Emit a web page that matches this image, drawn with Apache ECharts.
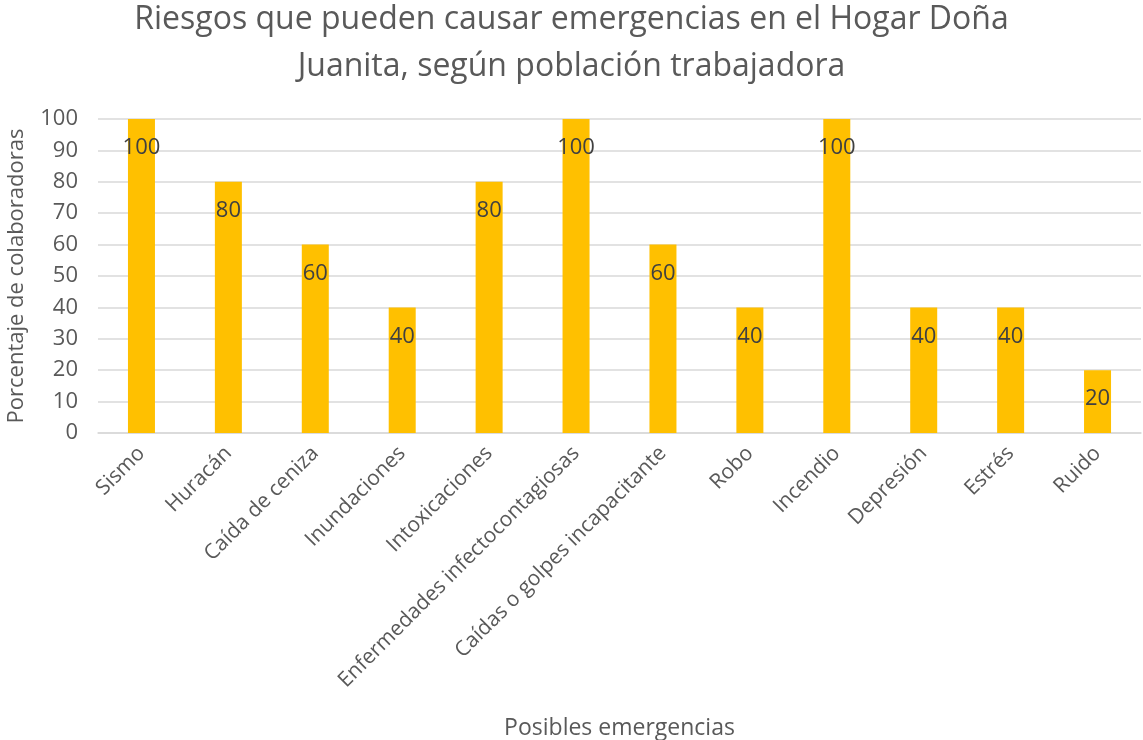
<!DOCTYPE html>
<html><head><meta charset="utf-8">
<script src="https://cdn.jsdelivr.net/npm/echarts@6/dist/echarts.min.js"></script>
<style>html,body{margin:0;padding:0;background:#fff}#c{width:1143px;height:740px}</style>
</head><body><div id="c"></div>
<script>
const categories = ["Sismo","Huracán","Caída de ceniza","Inundaciones","Intoxicaciones","Enfermedades infectocontagiosas","Caídas o golpes incapacitante","Robo","Incendio","Depresión","Estrés","Ruido"];
const values = [100,80,60,40,80,100,60,40,100,40,40,20];
const yTicks = {min:0,max:100,interval:10};
const titleText = "Riesgos que pueden causar emergencias en el Hogar Doña\nJuanita, según población trabajadora";
const xName = "Posibles emergencias";
const yName = "Porcentaje de colaboradoras";

const font = "'Open Sans', sans-serif";
const chart = echarts.init(document.getElementById('c'));
chart.setOption({
  animation:false,
  title:{text:titleText,left:'center',top:-9,textStyle:{fontFamily:font,fontSize:32,fontWeight:'normal',color:'#595959',lineHeight:47}},
  grid:{left:98,right:2,top:119,bottom:307,containLabel:false,outerBoundsMode:'none'},
  xAxis:{type:'category',data:categories,
    name:xName,nameLocation:'middle',nameGap:284,
    nameTextStyle:{fontFamily:font,fontSize:23,color:'#595959'},
    axisLine:{lineStyle:{color:'#d9d9d9',width:1.5}},axisTick:{show:false},
    axisLabel:{rotate:45,interval:0,margin:17,fontFamily:font,fontSize:21,color:'#595959'}},
  yAxis:{type:'value',min:yTicks.min,max:yTicks.max,interval:yTicks.interval,
    name:yName,nameLocation:'middle',nameGap:70,nameRotate:90,
    nameTextStyle:{fontFamily:font,fontSize:22,color:'#595959'},
    axisLine:{show:false},axisTick:{show:false},
    axisLabel:{margin:20,fontFamily:font,fontSize:22,color:'#595959'},
    splitLine:{lineStyle:{color:'#d9d9d9',width:1.5}}},
  series:[{type:'bar',data:values,barWidth:27,itemStyle:{color:'#FFC000'},
    label:{show:true,position:'insideTop',distance:18,fontFamily:font,fontSize:22,color:'#404040'}}]
});
</script></body></html>
